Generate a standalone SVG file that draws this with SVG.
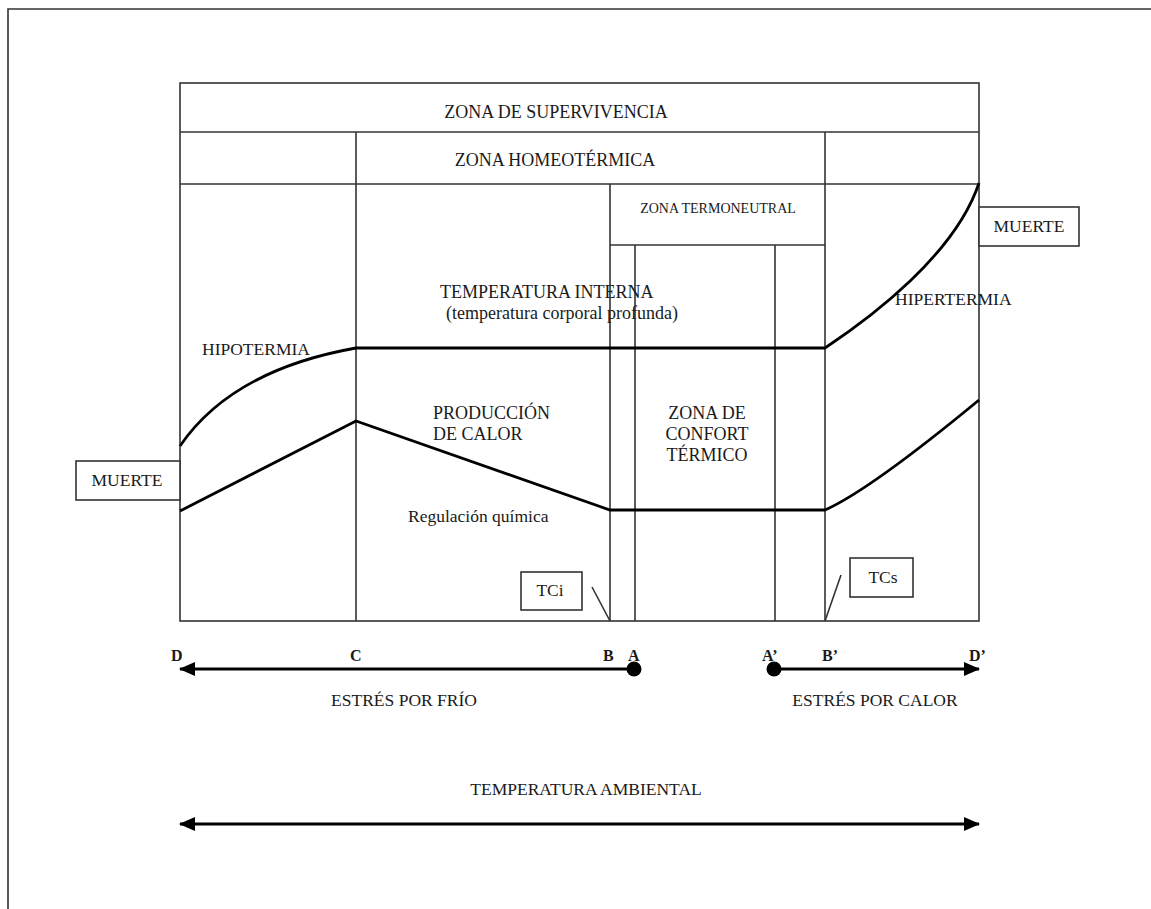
<svg xmlns="http://www.w3.org/2000/svg" width="1151" height="909" viewBox="0 0 1151 909">
<style>
.box{fill:none;stroke:#333;stroke-width:1.6}
.lbox{fill:#fff;stroke:#333;stroke-width:1.6}
.curve{fill:none;stroke:#000;stroke-width:2.8}
.arr{fill:none;stroke:#000;stroke-width:3}
text{font-family:"Liberation Serif","Times New Roman",serif;fill:#1a1a1a}
.big{font-size:18px}
.mid{font-size:17.5px}
.sm{font-size:14px}
.lab{font-size:16px;font-weight:bold}
.c{text-anchor:middle}
</style>
<defs>
<marker id="ah" viewBox="0 0 16 14" refX="15" refY="7" markerWidth="16" markerHeight="14" markerUnits="userSpaceOnUse" orient="auto-start-reverse">
<path d="M0,0 L16,7 L0,14 z" fill="#000"/>
</marker>
</defs>
<rect width="1151" height="909" fill="#fff"/>
<g id="frame">
<path class="box" d="M8,909 V9 H1151"/>
</g>
<g id="grid">
<rect class="box" x="180" y="83" width="799" height="538"/>
<line class="box" x1="180" y1="132" x2="979" y2="132"/>
<line class="box" x1="180" y1="184" x2="979" y2="184"/>
<line class="box" x1="356" y1="132" x2="356" y2="621"/>
<line class="box" x1="825" y1="132" x2="825" y2="621"/>
<line class="box" x1="610" y1="184" x2="610" y2="621"/>
<line class="box" x1="610" y1="245" x2="825" y2="245"/>
<line class="box" x1="635" y1="245" x2="635" y2="621"/>
<line class="box" x1="775" y1="245" x2="775" y2="621"/>
</g>
<g id="zona-supervivencia"><text class="big c" x="556" y="118">ZONA DE SUPERVIVENCIA</text></g>
<g id="zona-homeotermica"><text class="big c" x="555" y="166">ZONA HOMEOTÉRMICA</text></g>
<g id="zona-termoneutral"><text class="sm c" x="718" y="213">ZONA TERMONEUTRAL</text></g>
<g id="temperatura-interna">
<text class="big" x="440" y="298">TEMPERATURA INTERNA</text>
<text class="big" x="446" y="319">(temperatura corporal profunda)</text>
</g>
<g id="hipotermia"><text class="mid" x="202" y="355">HIPOTERMIA</text></g>
<g id="hipertermia"><text class="mid" x="895" y="305">HIPERTERMIA</text></g>
<g id="produccion">
<text class="big" x="433" y="419">PRODUCCIÓN</text>
<text class="big" x="433" y="440">DE CALOR</text>
</g>
<g id="confort">
<text class="big c" x="707" y="419">ZONA DE</text>
<text class="big c" x="707" y="440">CONFORT</text>
<text class="big c" x="707" y="461">TÉRMICO</text>
</g>
<g id="regulacion"><text class="mid" x="408" y="522">Regulación química</text></g>
<g id="muerte-izq">
<rect class="lbox" x="76" y="461" width="104" height="39"/>
<text class="mid c" x="127" y="486">MUERTE</text>
</g>
<g id="muerte-der">
<rect class="lbox" x="979" y="207" width="100" height="39"/>
<text class="mid c" x="1029" y="232">MUERTE</text>
</g>
<g id="tci">
<rect class="lbox" x="521" y="572" width="61" height="38"/>
<text class="mid c" x="550" y="596">TCi</text>
</g>
<g id="tcs">
<rect class="lbox" x="850" y="558" width="63" height="39"/>
<text class="mid c" x="883" y="583">TCs</text>
</g>
<g id="curves">
<path class="curve" d="M180,446 Q232,370 356,348 H825 C870,318 955,255 979,183"/>
<path class="curve" d="M180,511 L356,421 L610,510 H825 Q870,490 979,400"/>
</g>
<g id="connectors">
<line class="box" x1="592" y1="587" x2="610" y2="621"/>
<line class="box" x1="841" y1="575" x2="825" y2="621"/>
<line class="arr" x1="634" y1="669" x2="180" y2="669" marker-end="url(#ah)"/>
<circle cx="634" cy="669" r="7.5" fill="#000"/>
<line class="arr" x1="774" y1="669" x2="979" y2="669" marker-end="url(#ah)"/>
<circle cx="774" cy="669" r="7.5" fill="#000"/>
<line class="arr" x1="180" y1="824" x2="979" y2="824" marker-start="url(#ah)" marker-end="url(#ah)"/>
</g>
<g id="axis-labels">
<text class="lab" x="171" y="661">D</text>
<text class="lab" x="350" y="661">C</text>
<text class="lab" x="603" y="661">B</text>
<text class="lab" x="628" y="661">A</text>
<text class="lab" x="762" y="661">A’</text>
<text class="lab" x="822" y="661">B’</text>
<text class="lab" x="969" y="661">D’</text>
</g>
<g id="estres-frio"><text class="mid c" x="404" y="706">ESTRÉS POR FRÍO</text></g>
<g id="estres-calor"><text class="mid c" x="875" y="706">ESTRÉS POR CALOR</text></g>
<g id="temp-ambiental"><text class="mid c" x="586" y="795">TEMPERATURA AMBIENTAL</text></g>
</svg>
